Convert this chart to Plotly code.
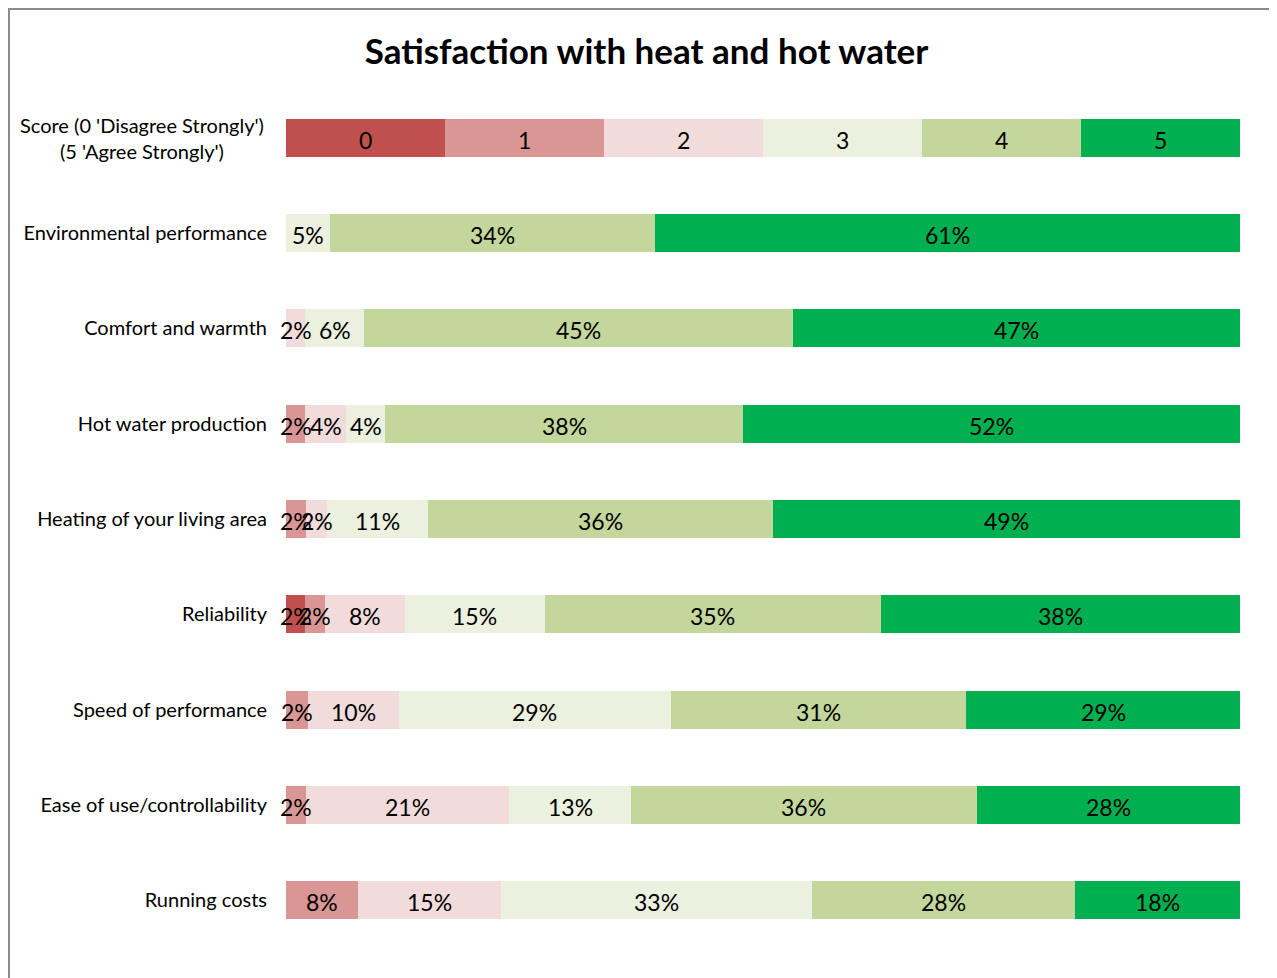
import plotly.graph_objects as go

# ---- data ----
rows = [
    "Score (0 'Disagree Strongly')<br>(5 'Agree Strongly')",
    "Environmental performance",
    "Comfort and warmth",
    "Hot water production",
    "Heating of your living area",
    "Reliability",
    "Speed of performance",
    "Ease of use/controllability",
    "Running costs",
]
scores = ["0", "1", "2", "3", "4", "5"]
# percentage of respondents per score (None = no responses)
score_0 = [100/6, None, None, None, None, 2.0, None, None, None]
score_1 = [100/6, None, None, 2.0, 2.1, 2.1, 2.3, 2.1, 7.5]
score_2 = [100/6, None, 2.0, 4.3, 2.2, 8.4, 9.5, 21.3, 15.0]
score_3 = [100/6, 4.6, 6.2, 4.1, 10.6, 14.6, 28.6, 12.8, 32.6]
score_4 = [100/6, 34.1, 44.9, 37.5, 36.2, 35.3, 30.9, 36.2, 27.6]
score_5 = [100/6, 61.3, 46.9, 52.1, 48.9, 37.6, 28.7, 27.6, 17.3]
series = [score_0, score_1, score_2, score_3, score_4, score_5]
colors = ["#C0504D", "#D99694", "#F2DCDB", "#EBF1DE", "#C3D69B", "#00B050"]
# displayed labels (as printed on the chart)
labels = [
    ["0", "", "", "", "", "2%", "", "", ""],
    ["1", "", "", "2%", "2%", "2%", "2%", "2%", "8%"],
    ["2", "", "2%", "4%", "2%", "8%", "10%", "21%", "15%"],
    ["3", "5%", "6%", "4%", "11%", "15%", "29%", "13%", "33%"],
    ["4", "34%", "45%", "38%", "36%", "35%", "31%", "36%", "28%"],
    ["5", "61%", "47%", "52%", "49%", "38%", "29%", "28%", "18%"],
]

FONT = "Lato"
fig = go.Figure()
for name, vals, col in zip(scores, series, colors):
    fig.add_trace(go.Bar(
        y=rows, x=vals, orientation="h", name=name,
        marker=dict(color=col, line=dict(width=0)),
        hoverinfo="x+y+name",
    ))

# data labels drawn on top of every bar (centre of each segment)
cum = [0.0] * len(rows)
for vals, txt in zip(series, labels):
    for i, (v, t) in enumerate(zip(vals, txt)):
        if v:
            fig.add_annotation(x=cum[i] + v / 2, y=rows[i], xref="x", yref="y",
                               text=t, showarrow=False, xanchor="center",
                               yanchor="middle", yshift=-2,
                               font=dict(family=FONT, size=23, color="black"))
            cum[i] += v

PL, PW, PT, PH = 278, 954, 82, 858
fig.update_layout(
    barmode="stack",
    bargap=0.6,
    width=1277, height=978,
    margin=dict(l=PL, r=1277 - PL - PW, t=PT, b=978 - PT - PH),
    paper_bgcolor="white", plot_bgcolor="white",
    showlegend=False,
    title=dict(text="<b>Satisfaction with heat and hot water</b>",
               x=0.5, xanchor="center", xref="container",
               y=1 - 44/978, yanchor="middle", yref="container",
               font=dict(family=FONT, size=35, color="black")),
    font=dict(family=FONT, color="black"),
)
fig.update_xaxes(range=[0, 100.01], visible=False, showgrid=False)
fig.update_yaxes(
    autorange="reversed", showgrid=False, showline=False, zeroline=False,
    tickmode="array", tickvals=rows, ticktext=[""] + rows[1:],
    tickfont=dict(family=FONT, size=20, color="black"),
    ticklabelstandoff=18,
)
# two-line, centred label for the score row
fig.add_annotation(text=rows[0], xref="paper", yref="y", x=-20/PW, y=rows[0],
                   xanchor="right", yanchor="middle", align="center", showarrow=False,
                   font=dict(family=FONT, size=20, color="black"))
# chart border
fig.add_shape(type="rect", xref="paper", yref="paper",
              x0=-(PL - 1)/PW, x1=(1264 - PL)/PW, y0=-60/PH, y1=(PT + PH - 1)/PH,
              line=dict(color="#8C8C8C", width=2), fillcolor="rgba(0,0,0,0)", layer="below")

fig.write_html("out.html")
